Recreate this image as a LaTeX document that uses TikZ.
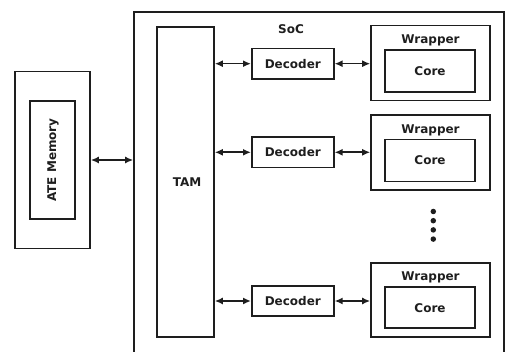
\documentclass[tikz,border=0pt]{standalone}
\usepackage{fontspec}
\setmainfont{DejaVu Sans}
\usetikzlibrary{arrows.meta}
\definecolor{ink}{HTML}{1e1e1e}
\begin{document}
\begin{tikzpicture}[x=1pt,y=-1pt,
  box/.style={draw=ink, line width=1.6pt, inner sep=0pt, fill=none},
  lbl/.style={font=\bfseries\fontsize{12}{14}\selectfont, text=ink, inner sep=0pt},
  link/.style={draw=ink, line width=1.6pt, {Latex[length=8pt,width=7pt]}-{Latex[length=8pt,width=7pt]}},
  dot/.style={circle, fill=ink, inner sep=0pt, minimum size=5.5pt}]
\useasboundingbox (0,0) rectangle (512,352);
\clip (0,0) rectangle (512,352);
% SoC
\node[box, minimum width=370pt, minimum height=343pt] (soc) at (319,183.5) {};
\node[lbl] (soclbl) at (291,29) {SoC};
% ATE
\node[box, minimum width=75pt, minimum height=177pt] (ate) at (52.5,160) {};
\node[box, minimum width=45pt, minimum height=118pt] (atemem) at (52.5,160) {};
\node[lbl, rotate=90] (atelbl) at (53,160) {ATE Memory};
% TAM
\node[box, minimum width=57pt, minimum height=310pt] (tam) at (185.5,181.8) {};
\node[lbl] (tamlbl) at (187,181.8) {TAM};
% Decoders
\node[box, minimum width=82pt, minimum height=30.5pt] (dec1) at (292.8,63.7) {};
\node[lbl] (dec1l) at (292.8,63.7) {Decoder};
\node[box, minimum width=82pt, minimum height=30.5pt] (dec2) at (292.8,152.3) {};
\node[lbl] (dec2l) at (292.8,152.3) {Decoder};
\node[box, minimum width=82pt, minimum height=30.5pt] (dec3) at (292.8,301) {};
\node[lbl] (dec3l) at (292.8,301) {Decoder};
% Wrappers
\node[box, minimum width=119pt, minimum height=75pt] (wr1) at (430.5,63) {};
\node[lbl] (wr1l) at (430.5,40.7) {Wrapper};
\node[box, minimum width=90pt, minimum height=42pt] (co1) at (430,71.2) {};
\node[lbl] (co1l) at (430,71.2) {Core};
\node[box, minimum width=119pt, minimum height=75pt] (wr2) at (430.5,152.5) {};
\node[lbl] (wr2l) at (430.5,130) {Wrapper};
\node[box, minimum width=90pt, minimum height=42pt] (co2) at (430,160.5) {};
\node[lbl] (co2l) at (430,160.5) {Core};
\node[box, minimum width=119pt, minimum height=74pt] (wr3) at (430.5,300) {};
\node[lbl] (wr3l) at (430.5,277) {Wrapper};
\node[box, minimum width=90pt, minimum height=41pt] (co3) at (430,307.8) {};
\node[lbl] (co3l) at (430,307.8) {Core};
% dots
\node[dot] (d1) at (433.3,211.5) {};
\node[dot] (d2) at (433.3,220.7) {};
\node[dot] (d3) at (433.3,229.9) {};
\node[dot] (d4) at (433.3,239.1) {};
% connectors
\draw[link] (ate.east) -- (ate.east -| soc.west);
\draw[link] (dec1.west -| tam.east) -- (dec1.west);
\draw[link] (dec2.west -| tam.east) -- (dec2.west);
\draw[link] (dec3.west -| tam.east) -- (dec3.west);
\draw[link] (dec1.east) -- (dec1.east -| wr1.west);
\draw[link] (dec2.east) -- (dec2.east -| wr2.west);
\draw[link] (dec3.east) -- (dec3.east -| wr3.west);
\end{tikzpicture}
\end{document}
